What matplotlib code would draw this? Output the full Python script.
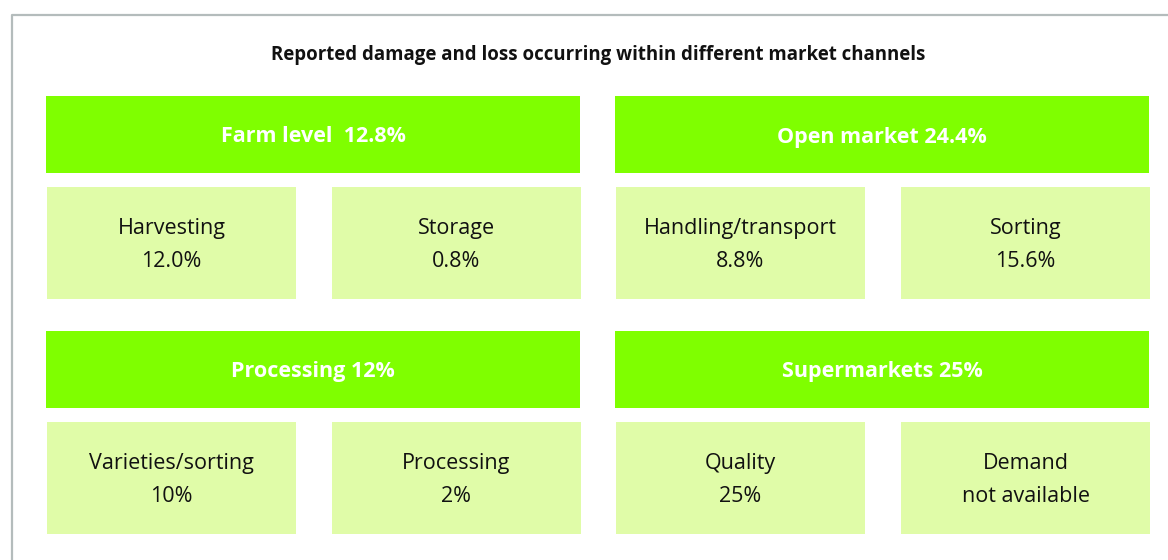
import matplotlib
matplotlib.use("Agg")
import matplotlib.pyplot as plt
from matplotlib.patches import Rectangle

# data
channels = ["Farm level ", "Open market", "Processing", "Supermarkets"]
channel_loss = ["12.8%", "24.4%", "12%", "25%"]
stages = [["Harvesting", "Storage"],
          ["Handling/transport", "Sorting"],
          ["Varieties/sorting", "Processing"],
          ["Quality", "Demand"]]
stage_loss = [["12.0%", "0.8%"],
              ["8.8%", "15.6%"],
              ["10%", "2%"],
              ["25%", "not available"]]
title = "Reported damage and loss occurring within different market channels"

plt.rcParams["font.family"] = ["Open Sans", "DejaVu Sans"]

HEAD = "#7fff00"
SUB = "#e0fca8"

fig = plt.figure(figsize=(11.68, 5.6), dpi=100)
ax = fig.add_axes([0, 0, 1, 1])
ax.set_xlim(0, 1168)
ax.set_ylim(560, 0)
ax.axis("off")

# outer frame (only top/left visible)
ax.plot([11.5, 11.5, 1170], [570, 15, 15], color="#b4bcbc", lw=1.6, solid_capstyle="butt")

ax.text(598, 55, title, ha="center", va="center", fontsize=13.4, fontweight="bold", color="#111111")

col_x = [46, 615]
row_y = [96, 331]
for i, ch in enumerate(channels):
    x0 = col_x[i % 2]
    y0 = row_y[i // 2]
    ax.add_patch(Rectangle((x0, y0), 534, 77, color=HEAD, lw=0))
    ax.text(x0 + 267, y0 + 41, f"{ch} {channel_loss[i]}", ha="center", va="center",
            fontsize=15.5, fontweight="bold", color="white")
    for j in range(2):
        sx = x0 + 1 + j * 285
        sy = y0 + 91
        ax.add_patch(Rectangle((sx, sy), 249, 112, color=SUB, lw=0))
        ax.text(sx + 124.5, sy + 58, f"{stages[i][j]}\n{stage_loss[i][j]}", ha="center",
                va="center", fontsize=15.5, color="#111111", linespacing=1.75)

fig.savefig("out.png", dpi=100)
